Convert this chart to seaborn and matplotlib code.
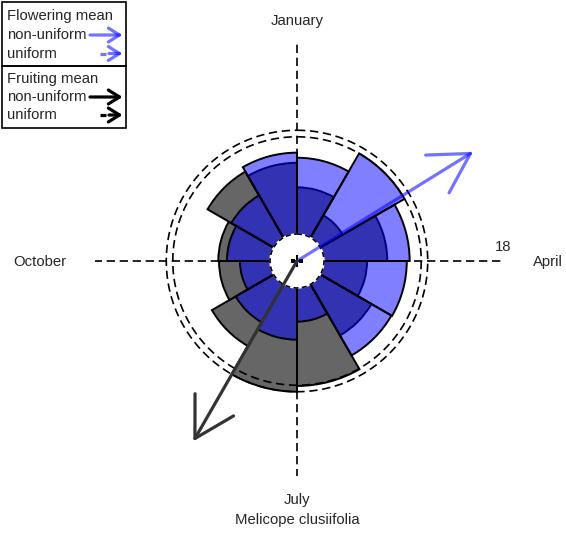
import numpy as np
import matplotlib
matplotlib.use("Agg")
import matplotlib.pyplot as plt
from matplotlib.patches import Rectangle
import seaborn as sns

# Monthly rose values (radial units), January starts at the top, clockwise
months = ["Jan", "Feb", "Mar", "Apr", "May", "Jun",
          "Jul", "Aug", "Sep", "Oct", "Nov", "Dec"]
flowering = [14.3, 17.2, 15.6, 15.2, 15.1, 8.4, 10.9, 9.8, 7.9, 9.7, 10.5, 15.0]
fruiting = [10.2, 7.3, 12.5, 9.7, 11.9, 17.3, 18.1, 13.6, 10.8, 10.9, 14.3, 13.6]

# Mean directions (degrees clockwise from 1 January) and arrow lengths
flower_mean_deg = 58.2
fruit_mean_deg = 209.9
flower_mean_len = 28.7
fruit_mean_len = 28.8

compass_labels = ["January", "April", "July", "October"]
species = "Melicope clusiifolia"
scale_label = "18"

W, H, DPI = 566, 535, 100
PX_PER_UNIT = 130 / 18.0
CX, CY = 297, 261           # centre of the rose, in pixels
R_AX = 230                  # half-size of the polar axes box, in pixels

sns.set_theme(style="white")
plt.rcParams["font.family"] = ["Liberation Sans", "DejaVu Sans"]

fig = plt.figure(figsize=(W / DPI, H / DPI), dpi=DPI)
fig.patch.set_facecolor("white")

ax = fig.add_axes([(CX - R_AX) / W, (H - CY - R_AX) / H, 2 * R_AX / W, 2 * R_AX / H],
                  projection="polar")
ax.set_theta_zero_location("N")
ax.set_theta_direction(-1)
ax.set_rlim(0, R_AX / PX_PER_UNIT)
ax.grid(False)
ax.set_xticks([])
ax.set_yticks([])
ax.spines["polar"].set_visible(False)
ax.patch.set_alpha(0)

theta = np.deg2rad(np.arange(12) * 30)
width = np.deg2rad(30)

dash = (0, (5.0, 2.8))
edge_lw = 1.4

# Cross-hair axes (drawn beneath the rose)
for ang, length in [(0, 30.0), (180, 29.8), (90, 28.2), (270, 28.0)]:
    ax.plot([np.deg2rad(ang)] * 2, [0, length], color="black", lw=1.2,
            linestyle=dash, zorder=1)

# Fruiting rose: opaque grey
ax.bar(theta, fruiting, width=width, align="edge", color="#666666",
       edgecolor="black", linewidth=edge_lw, zorder=2)
# Flowering rose: translucent blue on top
ax.bar(theta, flowering, width=width, align="edge", color=(0, 0, 1, 0.5),
       edgecolor="black", linewidth=edge_lw, zorder=3)

# Reference circles at each series' maximum
circ = np.linspace(0, 2 * np.pi, 500)
for rmax in (max(flowering), max(fruiting)):
    ax.plot(circ, np.full_like(circ, rmax), color="black", lw=1.2,
            linestyle=dash, zorder=4)

# Central hole
r_hole = 27 / PX_PER_UNIT
ax.fill(circ, np.full_like(circ, r_hole), color="white", zorder=5)
ax.plot(circ, np.full_like(circ, r_hole), color="black", lw=1.2,
        linestyle=(0, (3, 2)), zorder=6)
ax.plot([0], [0], marker="+", color="black", ms=9, mew=1.5, zorder=7)

# Mean-direction arrows
def mean_arrow(deg, length, color, alpha):
    ax.annotate("", xy=(np.deg2rad(deg), length), xytext=(0, 0),
                arrowprops=dict(arrowstyle="->,head_length=28,head_width=16",
                                mutation_scale=1, color=color, alpha=alpha,
                                lw=2.3, shrinkA=0, shrinkB=0),
                zorder=8, annotation_clip=False)

mean_arrow(flower_mean_deg, flower_mean_len, "blue", 0.55)
mean_arrow(fruit_mean_deg, fruit_mean_len, "#333333", 1.0)

# Overlay canvas in pixel coordinates for labels and legend
cv = fig.add_axes([0, 0, 1, 1], zorder=10)
cv.set_xlim(0, W)
cv.set_ylim(H, 0)
cv.axis("off")
cv.patch.set_alpha(0)

fs = 10.7
cv.text(CX, 21, compass_labels[0], ha="center", va="center", fontsize=fs)
cv.text(548, 262, compass_labels[1], ha="center", va="center", fontsize=fs)
cv.text(CX, 500, compass_labels[2], ha="center", va="center", fontsize=fs)
cv.text(40, 262, compass_labels[3], ha="center", va="center", fontsize=fs)
cv.text(CX, 520, species, ha="center", va="center", fontsize=fs)
cv.text(503, 247, scale_label, ha="center", va="center", fontsize=fs)

# Legend
cv.add_patch(Rectangle((2, 2), 124, 64, fill=False, edgecolor="black", lw=1.2))
cv.add_patch(Rectangle((2, 66), 124, 62, fill=False, edgecolor="black", lw=1.2))
legend_rows = [("Flowering mean", 16), ("non-uniform", 35), ("uniform", 53.5),
               ("Fruiting mean", 78.5), ("non-uniform", 97), ("uniform", 115)]
for txt, y in legend_rows:
    cv.text(7, y, txt, ha="left", va="center", fontsize=fs)

def legend_arrow(y, color, alpha, dashed):
    style = "->,head_length=8,head_width=5"
    if dashed:
        cv.plot([100, 105.5], [y, y], color=color, alpha=alpha, lw=2.3,
                solid_capstyle="butt")
        start = 109
    else:
        start = 90
    cv.annotate("", xy=(122.5, y), xytext=(start, y),
                arrowprops=dict(arrowstyle=style, mutation_scale=1, color=color,
                                alpha=alpha, lw=2.3, shrinkA=0, shrinkB=0))

legend_arrow(35, "blue", 0.55, False)
legend_arrow(53.5, "blue", 0.55, True)
legend_arrow(97, "black", 1.0, False)
legend_arrow(115, "black", 1.0, True)

fig.savefig("out.png", dpi=DPI)
